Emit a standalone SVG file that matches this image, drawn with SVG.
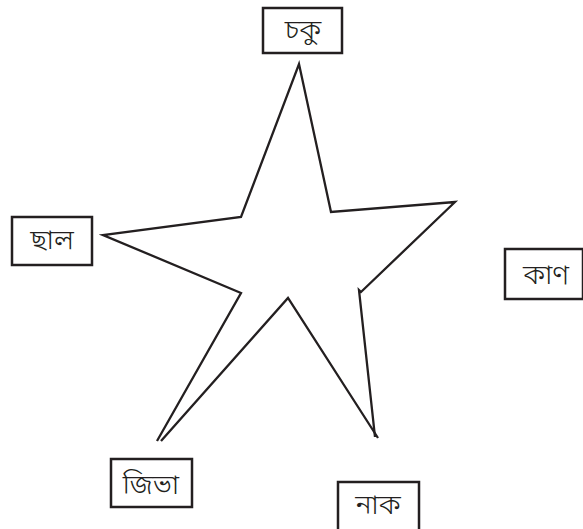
<svg xmlns="http://www.w3.org/2000/svg" width="583" height="529" viewBox="0 0 583 529">
<style>
.box{fill:#fff;stroke:#231f20;stroke-width:2.5}
.lbl{font-family:"Noto Sans Bengali","Noto Sans","Liberation Sans",sans-serif;font-size:28px;font-weight:300;fill:#231f20;text-anchor:middle}
.star{fill:none;stroke:#231f20;stroke-width:2.3;stroke-linejoin:miter}
</style>
<rect width="583" height="529" fill="#fff"/>
<g id="connectors">
<polyline class="star" points="161,441 288,298 378,438"/>
<polyline class="star" points="157,441 241,293 103,235 241,217 299,64 331,212 455,202 361,292 359,290 375,437"/>
</g>
<g id="chaku"><rect class="box" x="263" y="8" width="79" height="45"/><text class="lbl" x="303" y="39">চকু</text></g>
<g id="chhal"><rect class="box" x="12" y="217" width="80" height="48"/><text class="lbl" x="52" y="249">ছাল</text></g>
<g id="kan"><rect class="box" x="505" y="249" width="78" height="50"/><text class="lbl" x="546" y="284">কাণ</text></g>
<g id="jibha"><rect class="box" x="111" y="459" width="81" height="48"/><text class="lbl" x="151" y="494">জিভা</text></g>
<g id="nak"><rect class="box" x="338" y="482" width="81" height="50"/><text class="lbl" x="378" y="514">নাক</text></g>
</svg>
